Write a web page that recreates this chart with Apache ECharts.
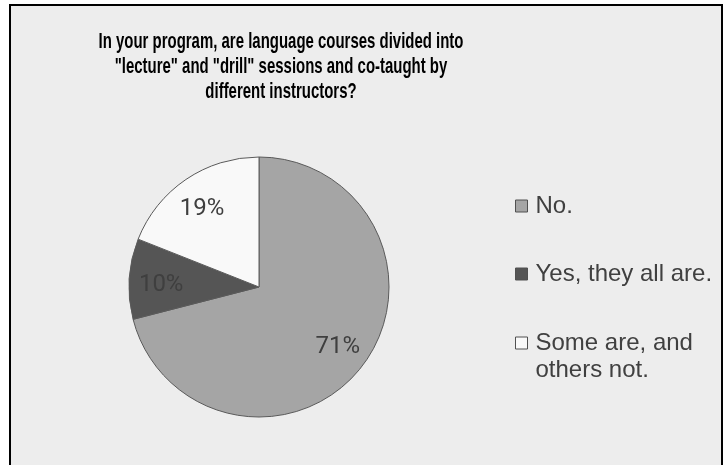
<!DOCTYPE html>
<html>
<head>
<meta charset="utf-8">
<script src="https://cdn.jsdelivr.net/npm/echarts@6/dist/echarts.min.js"></script>
<style>
  html, body { margin: 0; padding: 0; background: #ffffff; }
  #chart { width: 725px; height: 465px; }
</style>
</head>
<body>
<div id="chart"></div>
<script>
// Survey answers and their shares (percent)
const titleText = 'In your program, are language courses divided into\n"lecture" and "drill" sessions and co-taught by\ndifferent instructors?';
const categories = ['No.', 'Yes, they all are.', 'Some are, and others not.'];
const legendLabels = ['No.', 'Yes, they all are.', '\nSome are, and\nothers not.'];
const shares = [71, 10, 19];
const sliceColors = ['#a5a5a5', '#555555', '#f9f9f9'];

const center = [259, 287];
const radius = 130;
const total = shares.reduce((a, b) => a + b, 0);

// Percent labels sit at ~73% of the radius, just before each slice's mid angle;
// the small downward nudge centres the digits rather than the em box
function labelShift(params) {
  const i = params.dataIndex;
  let before = 0;
  for (let k = 0; k < i; k++) before += shares[k];
  const midOld = (before + shares[i] / 2) / total * Math.PI * 2;
  const mid = midOld - 1.5 * Math.PI / 180;
  const r = radius * 0.73;
  const r0 = radius * 0.5;
  return {
    dx: r * Math.sin(mid) - r0 * Math.sin(midOld),
    dy: -r * Math.cos(mid) + r0 * Math.cos(midOld) + 2
  };
}

// One legend block per answer so the wrapped label keeps its box beside the first line
const legendLineHeight = 27;
const legendCenters = [206, 274, 343];
const legends = categories.map((name, i) => {
  const lines = legendLabels[i].split('\n').length;
  return {
    orient: 'vertical',
    left: 515,
    top: legendCenters[i] - lines * legendLineHeight / 2,
    padding: 0,
    icon: 'rect',
    itemWidth: 12,
    itemHeight: 12,
    data: [name],
    formatter: () => legendLabels[i],
    textStyle: {
      fontFamily: 'Liberation Sans, Arial, sans-serif',
      fontSize: 24,
      lineHeight: legendLineHeight,
      color: '#404040',
      padding: [0, 0, 0, 3]
    },
    itemStyle: { borderColor: '#505050', borderWidth: 1 }
  };
});

const chart = echarts.init(document.getElementById('chart'), null, { renderer: 'canvas' });
chart.setOption({
  animation: false,
  backgroundColor: '#ffffff',
  graphic: [
    {
      type: 'rect',
      z: -10,
      shape: { x: 10, y: 5, width: 712, height: 480 },
      style: { fill: '#ededed', stroke: '#000000', lineWidth: 2 }
    },
    {
      // condensed bold heading, centred over the pie/legend block
      type: 'text',
      x: 281,
      y: 29,
      scaleX: 0.68,
      style: {
        text: titleText,
        font: 'bold 22px "Liberation Sans", Arial, sans-serif',
        lineHeight: 25,
        fill: '#000000',
        align: 'center',
        verticalAlign: 'top'
      }
    }
  ],
  legend: legends,
  series: [{
    type: 'pie',
    center: center,
    radius: [0, radius],
    startAngle: 90,
    clockwise: true,
    silent: true,
    data: categories.map((name, i) => ({
      name: name,
      value: shares[i],
      itemStyle: { color: sliceColors[i] }
    })),
    itemStyle: { borderColor: '#5a5a5a', borderWidth: 1 },
    label: {
      show: true,
      position: 'inside',
      formatter: '{c}%',
      fontFamily: 'Roboto, Liberation Sans, sans-serif',
      fontSize: 24,
      color: '#3f3f3f'
    },
    labelLine: { show: false },
    labelLayout: labelShift
  }]
});
</script>
</body>
</html>
